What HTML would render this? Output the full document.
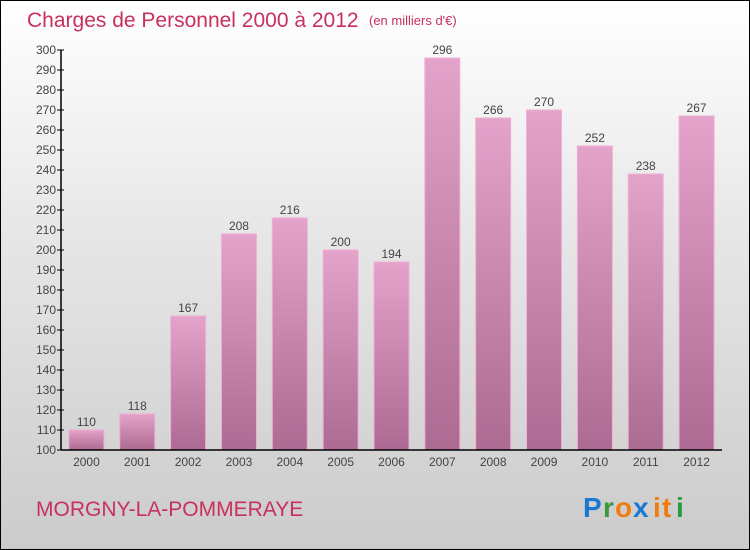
<!DOCTYPE html>
<html><head><meta charset="utf-8"><style>
body{margin:0}
#c{width:748px;height:548px;border:1px solid #000;background:linear-gradient(#fff,#e8e8e8 40%,#cbcbcb);position:relative;overflow:hidden;font-family:"Liberation Sans",sans-serif}
</style></head><body>
<div id="c">
<svg id="s" width="748" height="548">
<defs><linearGradient id="g" x1="0" y1="0" x2="0" y2="1"><stop offset="0" stop-color="#e4a3ca"/><stop offset="1" stop-color="#ad6a92"/></linearGradient></defs>
<text x="26" y="26" font-size="21" fill="#c8305e">Charges de Personnel 2000 à 2012</text>
<text x="368" y="24" font-size="13" fill="#c8305e">(en milliers d'€)</text>
<text x="35" y="515" font-size="21" fill="#c8305e">MORGNY-LA-POMMERAYE</text>
<g font-size="28" font-weight="bold" font-family="Liberation Sans, sans-serif">
<text x="582" y="516" fill="#1a78d0">P</text><text x="602" y="516" fill="#3a9a3a">r</text><text x="614" y="516" fill="#f07c10">o</text><text x="632" y="516" fill="#1a78d0">x</text><text x="652" y="516" fill="#f07c10">i</text><text x="661" y="516" fill="#f07c10">t</text><text x="675" y="516" fill="#2a9a40">i</text>
</g>
<g id="plot"></g>
</svg></div>
<script>
const categories=["2000","2001","2002","2003","2004","2005","2006","2007","2008","2009","2010","2011","2012"];
const values=[110,118,167,208,216,200,194,296,266,270,252,238,267];
const ticks=[100,110,120,130,140,150,160,170,180,190,200,210,220,230,240,250,260,270,280,290,300];
const NS="http://www.w3.org/2000/svg";
const g=document.getElementById('plot');
const x0=60,x1=721,yb=449,yt=49,vmin=100,vmax=300;
const band=(x1-x0)/categories.length;
const y=v=>yb-(v-vmin)/(vmax-vmin)*(yb-yt);
const xc=i=>x0+band*(i+0.5);
function mk(t,a){const e=document.createElementNS(NS,t);for(const k in a)e.setAttribute(k,a[k]);g.appendChild(e);return e;}
ticks.forEach(t=>{
 const l=mk('line',{x1:x0-4,x2:x0+3,y1:y(t),y2:y(t),stroke:'#000'});
 
 
 const tx=mk('text',{x:x0-5,y:y(t)+4,'text-anchor':'end','font-size':12,fill:'#444'});
 tx.textContent=t;
 
 
});
categories.forEach((c,i)=>{
 const r=mk('rect',{x:xc(i)-17.5,y:y(values[i]),width:35,height:yb-y(values[i]),fill:'url(#g)',stroke:'#eeb0d4','stroke-width':1});
 
 
 const v=mk('text',{x:xc(i),y:y(values[i])-4,'text-anchor':'middle','font-size':12,fill:'#444'});
 v.textContent=values[i];
 
 
 const tx=mk('text',{x:xc(i),y:yb+16,'text-anchor':'middle','font-size':12,fill:'#444'});
 tx.textContent=c;
 
 
});
const ya=mk('line',{x1:x0,x2:x0,y1:yt,y2:yb,stroke:'#000','stroke-width':1.5});


const xa=mk('line',{x1:x0,x2:x1,y1:yb,y2:yb,stroke:'#000','stroke-width':1.5});


</script></body></html>
